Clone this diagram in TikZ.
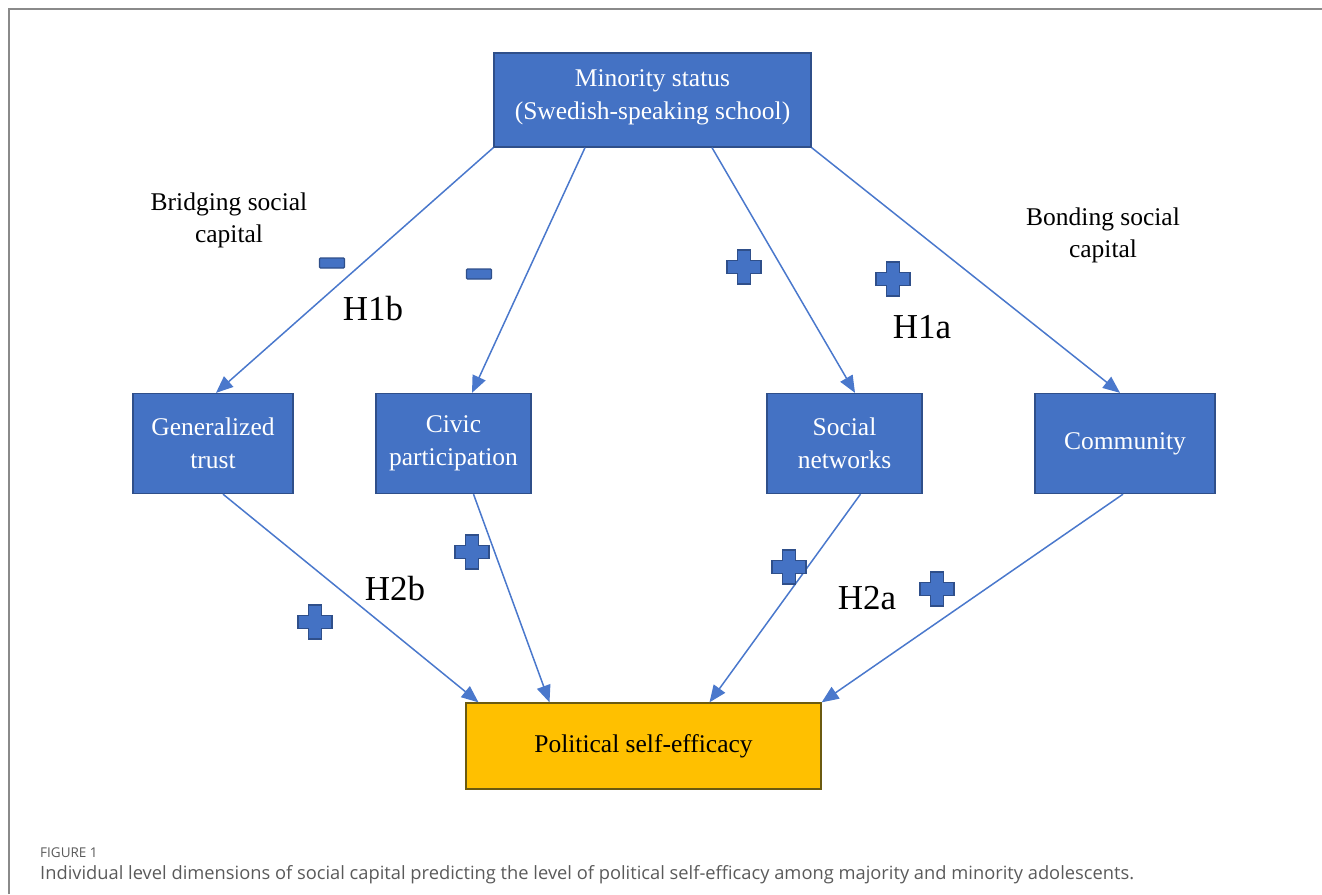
\documentclass[tikz,border=0pt]{standalone}
\usepackage{fontspec}
\setmainfont{Liberation Serif}
\newfontfamily\capfont{Open Sans}
\usetikzlibrary{arrows.meta}
\definecolor{boxblue}{HTML}{4472C4}
\definecolor{boxedge}{HTML}{2F4F8A}
\definecolor{boxyellow}{HTML}{FFC000}
\definecolor{yedge}{HTML}{6B5A10}
\definecolor{arrowblue}{HTML}{4A78CC}
\definecolor{framegray}{HTML}{8A8A8A}
\definecolor{capgray}{HTML}{5A5A5A}
\tikzset{
  bluebox/.style={draw=boxedge, line width=1.3pt, fill=boxblue, text=white, align=center,
    inner sep=0pt, font=\fontsize{25.5}{33}\selectfont},
  yellowbox/.style={draw=yedge, line width=1.3pt, fill=boxyellow, text=black, align=center,
    inner sep=0pt, font=\fontsize{25.5}{33}\selectfont},
  link/.style={draw=arrowblue, line width=1.5pt, -{Triangle[length=17pt,width=14pt]}},
  sidelabel/.style={align=center, font=\fontsize{25.5}{32}\selectfont, inner sep=0pt},
  hlabel/.style={anchor=base, font=\fontsize{35}{40}\selectfont, inner sep=0pt},
  pluspic/.pic={
    \draw[draw=boxedge, line width=1.1pt, fill=boxblue]
      (-6.5,-17) -- (6.5,-17) -- (6.5,-6.5) -- (17,-6.5) -- (17,6.5) -- (6.5,6.5) --
      (6.5,17) -- (-6.5,17) -- (-6.5,6.5) -- (-17,6.5) -- (-17,-6.5) -- (-6.5,-6.5) -- cycle;
  },
  minuspic/.pic={
    \draw[draw=boxedge, line width=1.1pt, fill=boxblue, rounded corners=1pt]
      (-12.5,-5) rectangle (12.5,5);
  }
}
\begin{document}
\begin{tikzpicture}[x=1pt,y=-1pt]
\useasboundingbox (0,0) rectangle (1322,894);
% frame
\draw[framegray, line width=2pt] (9,894) -- (9,9) -- (1322,9);

% boxes
\node[bluebox, minimum width=317pt, minimum height=94pt] (minority) at (652.5,100)
  {Minority status\\(Swedish-speaking school)\\[-22pt]};
\node[bluebox, minimum width=160pt, minimum height=100pt] (trust) at (213,443.5)
  {Generalized\\trust};
\node[bluebox, minimum width=155pt, minimum height=100pt] (civic) at (453.5,443.5)
  {Civic\\participation};
\node[bluebox, minimum width=155pt, minimum height=100pt] (social) at (844.5,443.5)
  {Social\\networks};
\node[bluebox, minimum width=180pt, minimum height=100pt] (community) at (1125,443.5)
  {Community};
\node[yellowbox, minimum width=355pt, minimum height=86pt] (pse) at (643.5,746)
  {Political self-efficacy};

% arrows from minority status
\draw[link] (minority.south west) -- ([xshift=3pt]trust.north);
\draw[link] ([xshift=-67.5pt]minority.south) -- ([xshift=18.5pt]civic.north);
\draw[link] ([xshift=59.5pt]minority.south) -- ([xshift=10.5pt]social.north);
\draw[link] (minority.south east) -- ([xshift=-5pt]community.north);

% arrows to political self-efficacy
\draw[link] ([xshift=10pt]trust.south) -- ([xshift=-165pt]pse.north);
\draw[link] ([xshift=20pt]civic.south) -- ([xshift=-94pt]pse.north);
\draw[link] ([xshift=16pt]social.south) -- ([xshift=66pt]pse.north);
\draw[link] ([xshift=-2pt]community.south) -- (pse.north east);

% side labels
\node[sidelabel] (bridging) at (229,220) {Bridging social\\capital};
\node[sidelabel] (bonding) at (1103,235) {Bonding social\\capital};

% hypothesis labels
\node[hlabel] (h1b) at (373,320) {H1b};
\node[hlabel] (h1a) at (922,338) {H1a};
\node[hlabel] (h2b) at (395,600) {H2b};
\node[hlabel] (h2a) at (867,609) {H2a};

% signs
\pic at (332,263) {minuspic};
\pic at (479,274) {minuspic};
\pic at (744,267) {pluspic};
\pic at (893,279) {pluspic};
\pic at (472,552) {pluspic};
\pic at (315,622) {pluspic};
\pic at (789,567) {pluspic};
\pic at (937,589) {pluspic};

% caption
\node[anchor=base west, inner sep=0pt, text=capgray, font=\capfont\fontsize{13.5}{15}\selectfont] (figlabel) at (40,857) {FIGURE 1};
\node[anchor=base west, inner sep=0pt, text=capgray, font=\capfont\fontsize{18.3}{22}\selectfont] (caption) at (40,879)
  {Individual level dimensions of social capital predicting the level of political self-efficacy among majority and minority adolescents.};
\end{tikzpicture}
\end{document}
